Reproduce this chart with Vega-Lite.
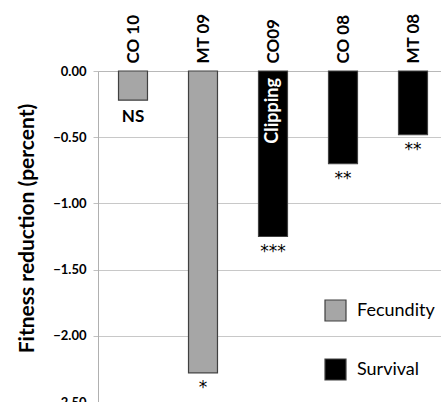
{
  "$schema": "https://vega.github.io/schema/vega-lite/v6.json",
  "autosize": "none",
  "padding": {"left": 98, "top": 71, "right": 0, "bottom": 0},
  "width": 350,
  "height": 331,
  "background": "white",
  "config": {"font": "Lato", "view": {"stroke": null}},
  "data": {"values": [
    {"site": "CO 10", "value": -0.22, "trait": "Fecundity", "sig": "NS", "note": ""},
    {"site": "MT 09", "value": -2.28, "trait": "Fecundity", "sig": "*", "note": ""},
    {"site": "CO09", "value": -1.25, "trait": "Survival", "sig": "***", "note": "Clipping"},
    {"site": "CO 08", "value": -0.70, "trait": "Survival", "sig": "**", "note": ""},
    {"site": "MT 08", "value": -0.48, "trait": "Survival", "sig": "**", "note": ""}
  ]},
  "encoding": {
    "x": {"field": "site", "type": "nominal", "sort": null,
      "scale": {"paddingInner": 0.586, "paddingOuter": 0.293},
      "axis": {"orient": "top", "title": null, "labelAngle": -90, "labelFontSize": 17, "labelFontWeight": "bold", "labelColor": "black", "labelPadding": 12, "tickBand": "extent", "tickSize": -4, "tickColor": "#b8b8b8", "domainColor": "#b8b8b8", "grid": false}},
    "y": {"field": "value", "type": "quantitative",
      "scale": {"domain": [-2.5, 0], "nice": false, "zero": false},
      "axis": {"values": [0, -0.5, -1, -1.5, -2, -2.5], "format": ".2f", "title": "Fitness reduction (percent)", "titleFontSize": 21, "titleFontWeight": "bold", "titleColor": "black", "titleAngle": 270, "titleX": -71, "titleY": 157, "titleBaseline": "middle", "titleAlign": "center", "labelFontSize": 13, "labelFontWeight": "bold", "labelColor": "black", "labelPadding": 7, "tickSize": 5, "tickColor": "#c0c0c0", "gridColor": "#c8c8c8", "domainColor": "#b0b0b0"}}
  },
  "layer": [
    {"mark": {"type": "bar", "stroke": "#404040", "strokeWidth": 1.2},
      "encoding": {"color": {"field": "trait", "type": "nominal", "sort": null,
        "scale": {"domain": ["Fecundity", "Survival"], "range": ["#a6a6a6", "#000000"]},
        "legend": {"title": null, "orient": "none", "legendX": 226, "legendY": 228, "symbolType": "square", "symbolSize": 441, "symbolStrokeColor": "#404040", "symbolStrokeWidth": 1.2, "labelFontSize": 18, "labelFont": "Lato", "labelColor": "black", "labelOffset": 10, "rowPadding": 32}}}},
    {"transform": [{"filter": "datum.sig == 'NS'"}],
      "mark": {"type": "text", "baseline": "top", "dy": 9, "fontSize": 17, "fontWeight": "bold", "color": "black"},
      "encoding": {"text": {"field": "sig"}}},
    {"transform": [{"filter": "datum.sig != 'NS'"}],
      "mark": {"type": "text", "baseline": "top", "dy": 7, "fontSize": 17, "font": "DejaVu Sans", "color": "black", "letterSpacing": 2},
      "encoding": {"text": {"field": "sig"}}},
    {"transform": [{"filter": "datum.note != ''"}],
      "mark": {"type": "text", "angle": 270, "align": "right", "baseline": "middle", "dx": -7, "fontSize": 18, "fontWeight": "bold", "color": "white"},
      "encoding": {"text": {"field": "note"}, "y": {"datum": 0}}}
  ]
}
